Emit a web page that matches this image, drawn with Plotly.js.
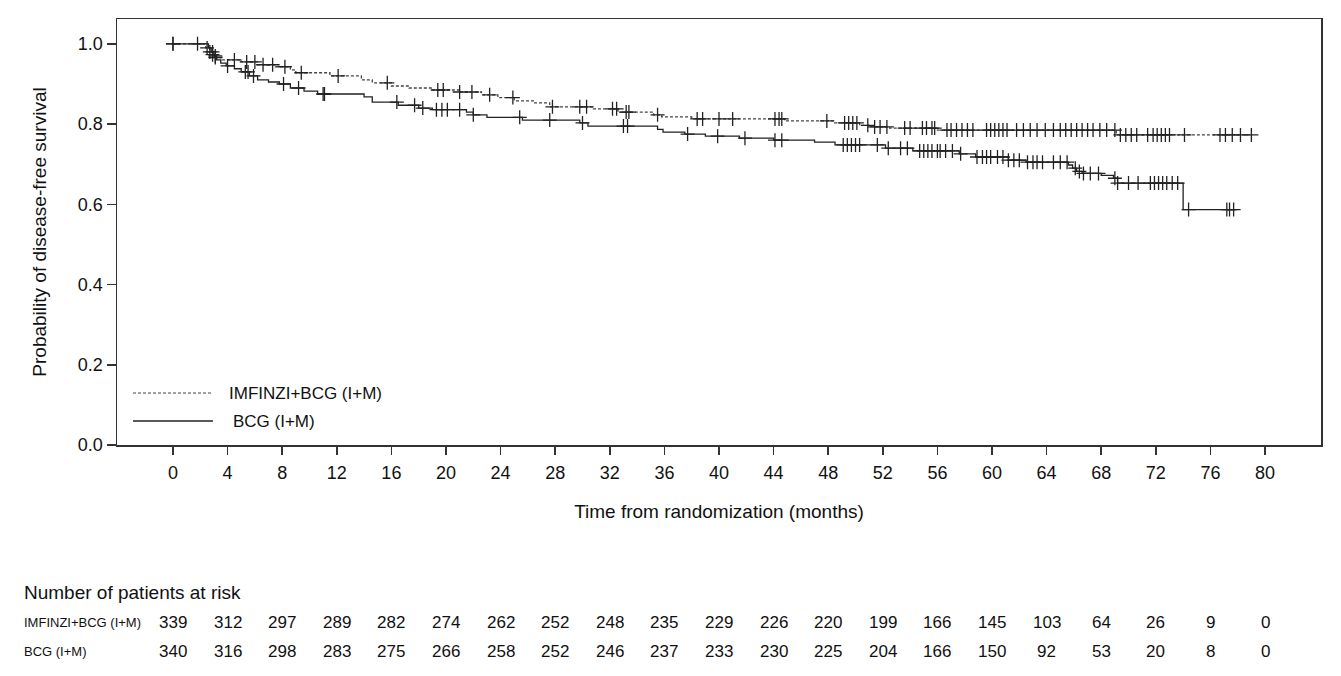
<!DOCTYPE html>
<html>
<head>
<meta charset="utf-8">
<script src="https://cdn.plot.ly/plotly-3.0.1.min.js"></script>
<style>
  html, body { margin: 0; padding: 0; background: #fff; }
  #plot { width: 1341px; height: 676px; }
</style>
</head>
<body>
<div id="plot"></div>
<script>
// Kaplan-Meier steps (months, probability)
var imfTimes = [0, 2.4, 2.7, 2.9, 3.1, 3.6, 5.0, 6.2, 7.5, 8.6, 9.0, 11.5, 13.8, 14.6, 16.0, 17.3, 19.0, 21.0,
  22.6, 23.8, 25.0, 26.4, 27.6, 30.8, 32.6, 35.2, 35.8, 38.0, 44.8, 48.4, 50.3, 51.0, 52.5, 56.0, 69.1, 79.0];
var imfSurv = [1.0, 0.99, 0.98, 0.973, 0.966, 0.96, 0.955, 0.948, 0.943, 0.935, 0.928, 0.92, 0.91, 0.903, 0.895, 0.89, 0.885, 0.88,
  0.873, 0.866, 0.858, 0.853, 0.843, 0.838, 0.83, 0.823, 0.818, 0.813, 0.808, 0.803, 0.797, 0.793, 0.79, 0.785, 0.773, 0.773];

var bcgTimes = [0, 2.6, 2.8, 3.0, 3.2, 3.5, 3.9, 4.5, 5.0, 5.6, 6.2, 7.0, 7.8, 8.6, 9.6, 10.6, 14.0, 14.6, 16.5, 18.0,
  19.0, 21.5, 22.0, 23.0, 25.6, 29.8, 30.4, 35.5, 35.9, 37.5, 39.0, 41.5, 44.0, 47.0, 48.5, 52.2, 54.2, 57.6, 58.8,
  61.2, 62.5, 65.6, 65.9, 66.2, 66.6, 68.0, 68.9, 69.2, 74.0, 77.9];
var bcgSurv = [1.0, 0.99, 0.98, 0.97, 0.96, 0.952, 0.945, 0.938, 0.93, 0.92, 0.91, 0.905, 0.9, 0.89, 0.882, 0.875, 0.868, 0.855, 0.847, 0.84,
  0.836, 0.83, 0.823, 0.817, 0.81, 0.803, 0.795, 0.787, 0.78, 0.775, 0.77, 0.765, 0.76, 0.755, 0.748, 0.74, 0.733, 0.726, 0.718,
  0.71, 0.705, 0.698, 0.69, 0.682, 0.677, 0.672, 0.665, 0.653, 0.587, 0.587];

// censoring times (months)
var imfCensor = [0, 1.8, 2.5, 2.7, 2.9, 3.1, 4.5, 5.4, 6.0, 6.6, 7.3, 8.2, 9.4, 12.1, 15.7, 19.4, 19.8, 21.0, 21.9, 23.2,
  24.9, 27.8, 29.8, 30.3, 32.2, 32.5, 33.2, 33.4, 35.5, 38.4, 38.8, 40.0, 41.0, 44.1, 44.4, 44.6, 47.9, 49.2, 49.5, 49.8,
  50.1, 50.9, 51.4, 51.8, 52.3, 53.6, 54.0, 54.9, 55.2, 55.6, 55.8, 56.7, 57.0, 57.4, 57.8, 58.2, 58.6, 59.6, 59.9, 60.2,
  60.5, 60.8, 61.1, 61.8, 62.3, 62.8, 63.3, 63.9, 64.5, 65.0, 65.4, 65.8, 66.2, 66.6, 67.0, 67.4, 67.9, 68.4, 69.0, 69.4,
  69.8, 70.2, 70.6, 71.4, 71.8, 72.1, 72.4, 72.7, 73.0, 74.1, 76.7, 77.1, 77.6, 78.2, 79.0];
var bcgCensor = [0, 2.9, 3.1, 4.0, 5.3, 5.5, 5.9, 8.1, 9.2, 11.0, 11.1, 16.4, 17.7, 18.3, 19.3, 19.7, 20.1, 21.0, 22.0, 25.4,
  27.6, 30.0, 33.0, 33.3, 37.7, 39.9, 41.9, 44.1, 44.6, 49.1, 49.4, 49.7, 50.0, 50.3, 51.6, 52.4, 53.3, 53.8, 54.7, 55.0,
  55.3, 55.6, 56.0, 56.2, 56.6, 57.1, 57.7, 58.9, 59.3, 59.6, 59.9, 60.4, 60.8, 61.2, 61.6, 62.0, 62.6, 63.0, 63.3, 63.7,
  64.5, 65.0, 65.5, 66.1, 66.4, 66.7, 67.2, 67.8, 69.0, 69.2, 70.0, 70.7, 71.6, 71.9, 72.2, 72.5, 72.8, 73.2, 73.6, 74.4,
  77.2, 77.4, 77.7];

// number at risk table
var riskTimes = [0, 4, 8, 12, 16, 20, 24, 28, 32, 36, 40, 44, 48, 52, 56, 60, 64, 68, 72, 76, 80];
var imfRisk = [339, 312, 297, 289, 282, 274, 262, 252, 248, 235, 229, 226, 220, 199, 166, 145, 103, 64, 26, 9, 0];
var bcgRisk = [340, 316, 298, 283, 275, 266, 258, 252, 246, 237, 233, 230, 225, 204, 166, 150, 92, 53, 20, 8, 0];

var imfName = 'IMFINZI+BCG (I+M)';
var bcgName = 'BCG (I+M)';

// value of the step curve at time t
function survAt(times, surv, t) {
  var s = surv[0];
  for (var i = 0; i < times.length; i++) {
    if (times[i] <= t) s = surv[i];
  }
  return s;
}

var fontFam = '"Liberation Sans", Arial, sans-serif';
var ink = '#111';

var traceImf = {
  x: imfTimes, y: imfSurv, name: imfName, type: 'scatter', mode: 'lines',
  line: {shape: 'hv', color: '#444', width: 1.3, dash: '3px,2px'}, showlegend: false, hoverinfo: 'skip'
};
var traceBcg = {
  x: bcgTimes, y: bcgSurv, name: bcgName, type: 'scatter', mode: 'lines',
  line: {shape: 'hv', color: '#222', width: 1.3}, showlegend: false, hoverinfo: 'skip'
};
var censorMarker = {symbol: 'cross-thin', size: 10, color: '#222', line: {width: 1.3, color: '#222'}};
var traceImfC = {
  x: imfCensor, y: imfCensor.map(function (t) { return survAt(imfTimes, imfSurv, t); }),
  type: 'scatter', mode: 'markers', marker: censorMarker, showlegend: false, hoverinfo: 'skip'
};
var traceBcgC = {
  x: bcgCensor, y: bcgCensor.map(function (t) { return survAt(bcgTimes, bcgSurv, t); }),
  type: 'scatter', mode: 'markers', marker: censorMarker, showlegend: false, hoverinfo: 'skip'
};

// legend drawn inside the plot, bottom left
var shapes = [
  {type: 'line', xref: 'paper', yref: 'paper', x0: 0.0133, x1: 0.0797, y0: 0.122, y1: 0.122,
    line: {color: '#444', width: 1, dash: '3px,2px'}},
  {type: 'line', xref: 'paper', yref: 'paper', x0: 0.0133, x1: 0.0797, y0: 0.0563, y1: 0.0563,
    line: {color: '#222', width: 1.3}}
];
var annotations = [
  {xref: 'paper', yref: 'paper', x: 0.0914, y: 0.122, text: imfName, showarrow: false,
    xanchor: 'left', yanchor: 'middle', font: {family: fontFam, size: 17, color: ink}},
  {xref: 'paper', yref: 'paper', x: 0.0947, y: 0.0563, text: bcgName, showarrow: false,
    xanchor: 'left', yanchor: 'middle', font: {family: fontFam, size: 17, color: ink}},
  {xref: 'paper', yref: 'paper', x: -0.0789, y: -0.347, text: 'Number of patients at risk', showarrow: false,
    xanchor: 'left', yanchor: 'middle', font: {family: fontFam, size: 19, color: ink}},
  {xref: 'paper', yref: 'paper', x: -0.0789, y: -0.4155, text: imfName, showarrow: false,
    xanchor: 'left', yanchor: 'middle', font: {family: fontFam, size: 13, color: ink}},
  {xref: 'paper', yref: 'paper', x: -0.0789, y: -0.4836, text: bcgName, showarrow: false,
    xanchor: 'left', yanchor: 'middle', font: {family: fontFam, size: 13, color: ink}}
];
riskTimes.forEach(function (t, i) {
  annotations.push({xref: 'x', yref: 'paper', x: t, y: -0.4155, text: String(imfRisk[i]), showarrow: false,
    xanchor: 'center', yanchor: 'middle', font: {family: fontFam, size: 17, color: ink}});
  annotations.push({xref: 'x', yref: 'paper', x: t, y: -0.4836, text: String(bcgRisk[i]), showarrow: false,
    xanchor: 'center', yanchor: 'middle', font: {family: fontFam, size: 17, color: ink}});
});

var layout = {
  width: 1341,
  height: 676,
  margin: {l: 117, r: 20, t: 19, b: 231},
  paper_bgcolor: '#fff',
  plot_bgcolor: '#fff',
  font: {family: fontFam, size: 18, color: ink},
  showlegend: false,
  xaxis: {
    range: [-4.1, 84.1],
    tickmode: 'array',
    tickvals: riskTimes,
    ticks: 'outside', ticklen: 8, tickwidth: 1.5, tickcolor: '#333',
    ticklabelstandoff: 3,
    showline: true, linecolor: '#333', linewidth: 1.5, mirror: true,
    showgrid: false, zeroline: false,
    tickfont: {family: fontFam, size: 18, color: ink},
    title: {text: 'Time from randomization (months)', font: {family: fontFam, size: 19, color: ink}, standoff: 22}
  },
  yaxis: {
    range: [0, 1.062],
    tickmode: 'array',
    tickvals: [0, 0.2, 0.4, 0.6, 0.8, 1.0],
    ticktext: ['0.0', '0.2', '0.4', '0.6', '0.8', '1.0'],
    ticks: 'outside', ticklen: 9, tickwidth: 1.5, tickcolor: '#333',
    showline: true, linecolor: '#333', linewidth: 1.5, mirror: true,
    showgrid: false, zeroline: false,
    tickfont: {family: fontFam, size: 18, color: ink},
    title: {text: 'Probability of disease-free survival', font: {family: fontFam, size: 19, color: ink}, standoff: 26}
  },
  shapes: shapes,
  annotations: annotations
};

Plotly.newPlot('plot', [traceImf, traceBcg, traceImfC, traceBcgC], layout, {displayModeBar: false, staticPlot: true});
</script>
</body>
</html>
